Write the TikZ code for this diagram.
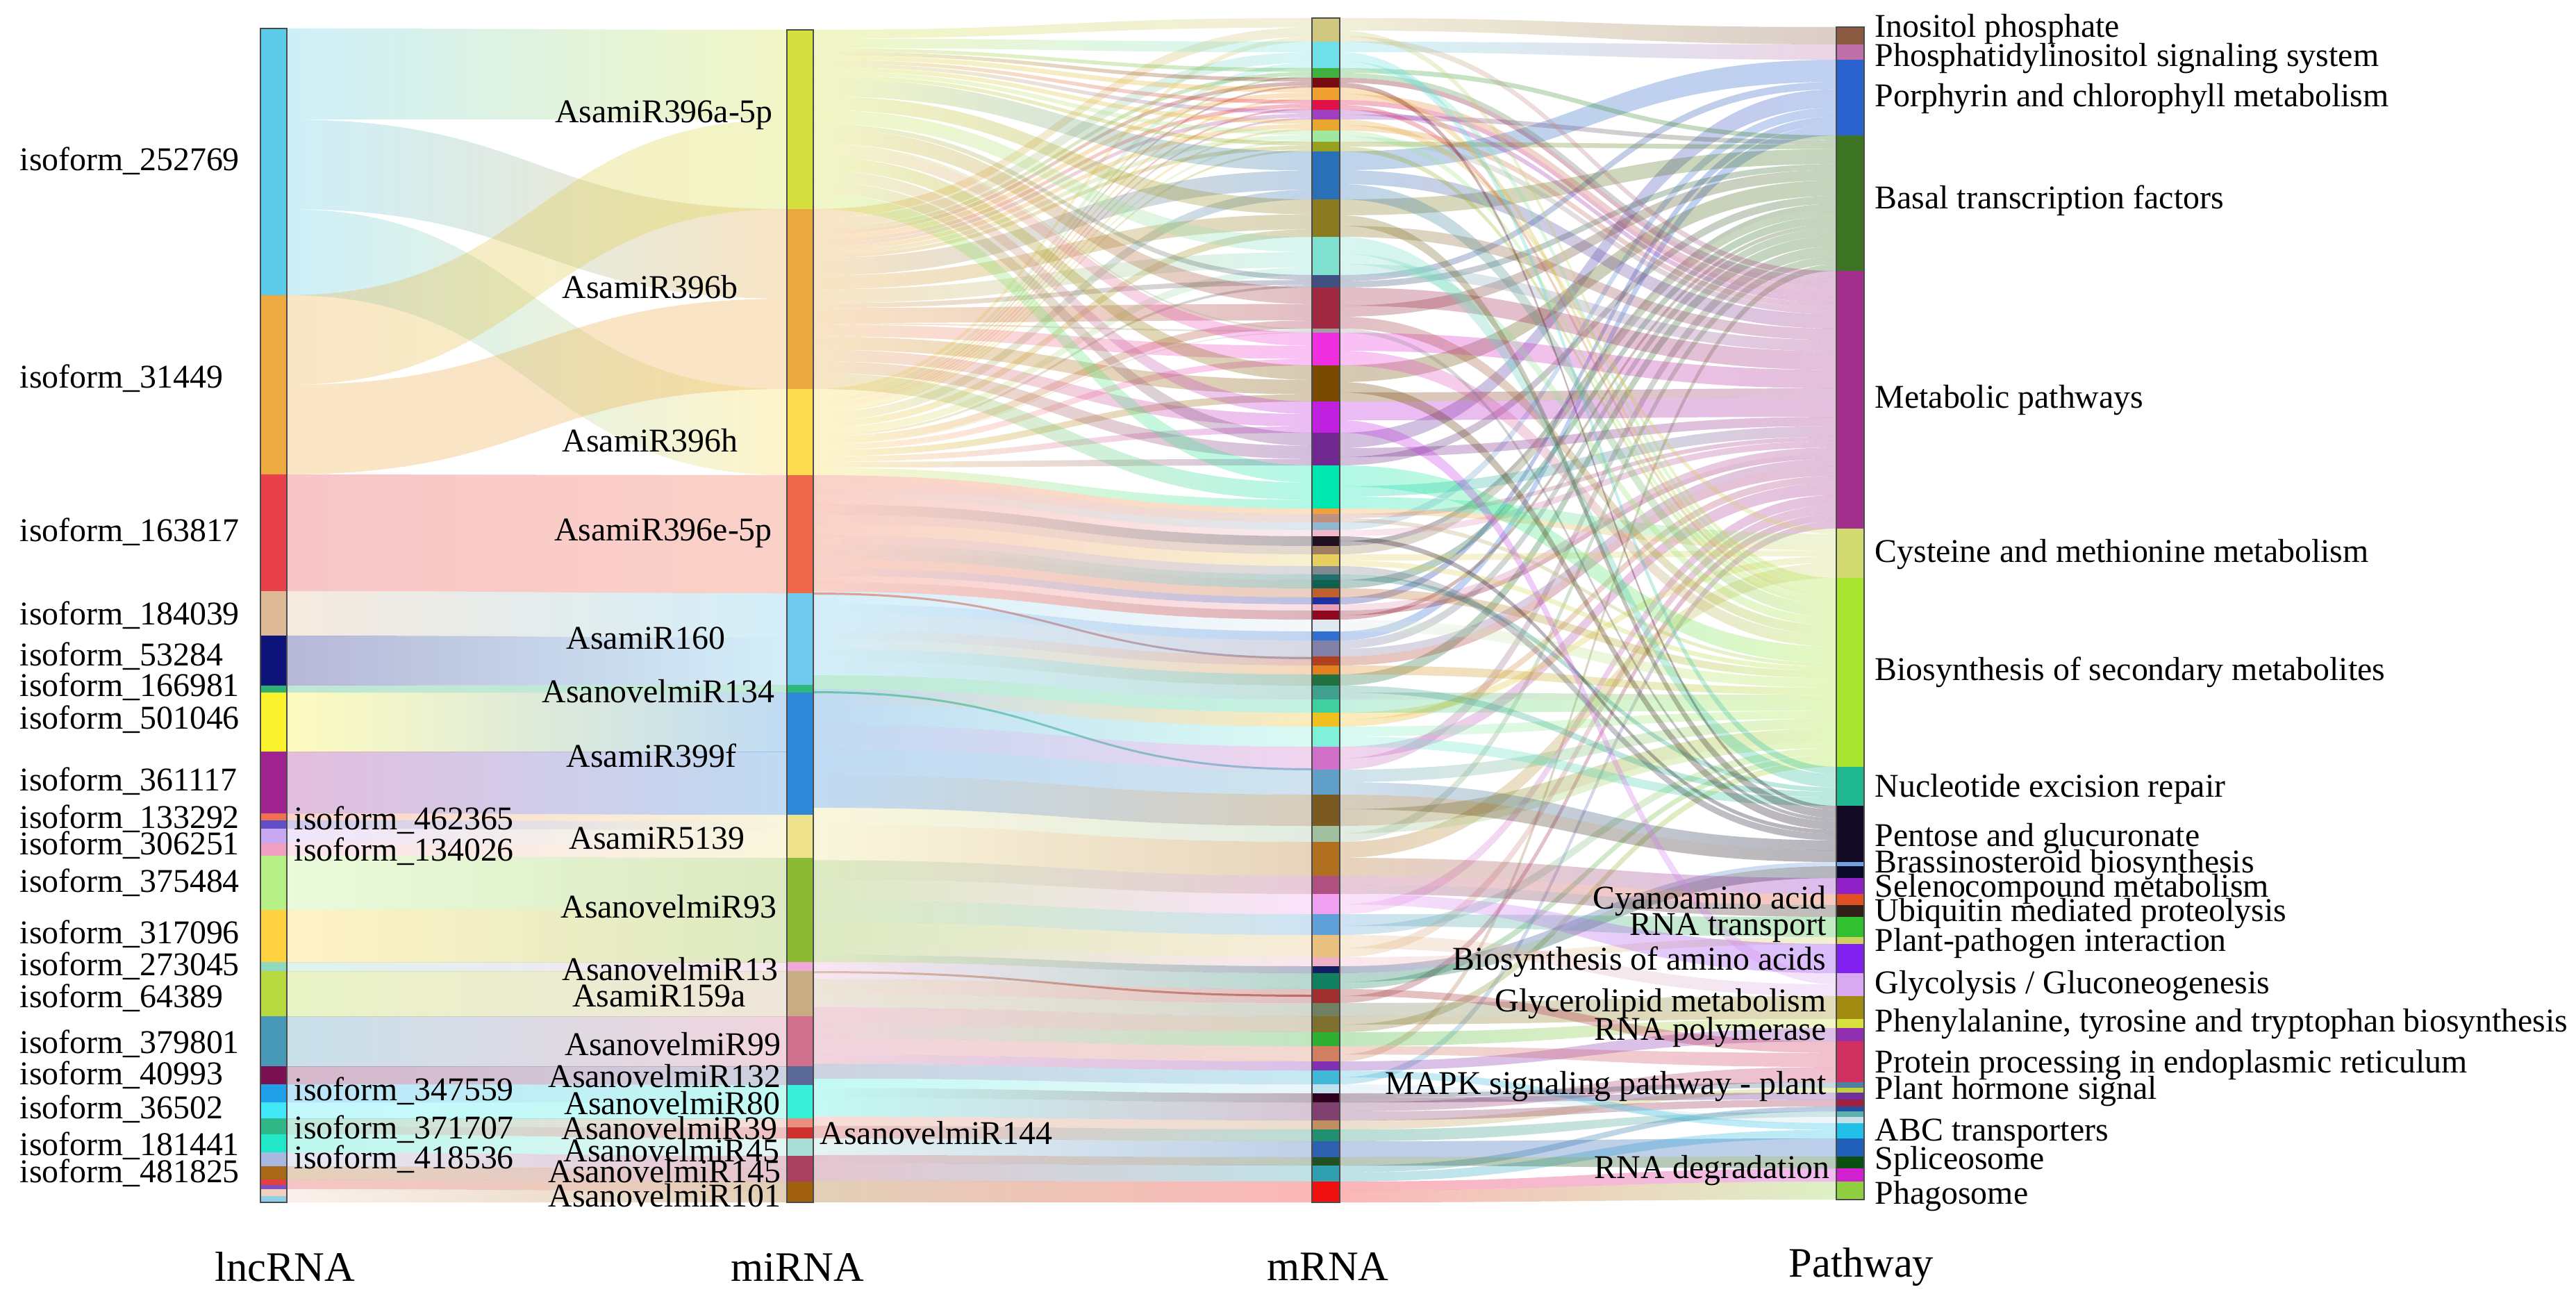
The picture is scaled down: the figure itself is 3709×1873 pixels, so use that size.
\documentclass[tikz,border=0pt]{standalone}
\usepackage{fontspec}
\setmainfont{Liberation Serif}
\usepackage{xcolor}
\usepackage{tikz}

% lncRNA colours
\definecolor{ln1}{HTML}{5CCBEA}\definecolor{ln2}{HTML}{EDAA40}\definecolor{ln3}{HTML}{E8404A}
\definecolor{ln4}{HTML}{DDB995}\definecolor{ln5}{HTML}{0E137A}\definecolor{ln6}{HTML}{30B070}
\definecolor{ln7}{HTML}{FBF22E}\definecolor{ln8}{HTML}{A02490}\definecolor{ln9}{HTML}{F07050}
\definecolor{ln10}{HTML}{6050C8}\definecolor{ln11}{HTML}{C8A8F0}\definecolor{ln12}{HTML}{F0A0C0}
\definecolor{ln13}{HTML}{B8F088}\definecolor{ln14}{HTML}{FFD040}\definecolor{ln15}{HTML}{90D8C0}
\definecolor{ln16}{HTML}{B8D840}\definecolor{ln17}{HTML}{4898B8}\definecolor{ln18}{HTML}{7A1050}
\definecolor{ln19}{HTML}{20A0E8}\definecolor{ln20}{HTML}{40E8F8}\definecolor{ln21}{HTML}{30B888}
\definecolor{ln22}{HTML}{20E8C8}\definecolor{ln23}{HTML}{A8B8E0}\definecolor{ln24}{HTML}{A86818}
\definecolor{ln25}{HTML}{E04040}\definecolor{ln26}{HTML}{8050C0}\definecolor{ln27}{HTML}{F0D0C0}
\definecolor{ln28}{HTML}{90D0E8}
% miRNA colours
\definecolor{mi1}{HTML}{D4E040}\definecolor{mi2}{HTML}{EAA840}\definecolor{mi3}{HTML}{FDDC50}
\definecolor{mi4}{HTML}{F0684A}\definecolor{mi5}{HTML}{70C8EC}\definecolor{mi6}{HTML}{30B878}
\definecolor{mi7}{HTML}{2E88D8}\definecolor{mi8}{HTML}{EEE28C}\definecolor{mi9}{HTML}{8CBA34}
\definecolor{mi10}{HTML}{F0A8D8}\definecolor{mi11}{HTML}{C8AC84}\definecolor{mi12}{HTML}{D0708E}
\definecolor{mi13}{HTML}{5A6898}\definecolor{mi14}{HTML}{38F0DA}\definecolor{mi15}{HTML}{E89080}
\definecolor{mi16}{HTML}{D03030}\definecolor{mi17}{HTML}{A8DCD4}\definecolor{mi18}{HTML}{A84060}
\definecolor{mi19}{HTML}{A06010}
% mRNA colours
\definecolor{mu1}{HTML}{D0C880}\definecolor{mu2}{HTML}{70E0E8}\definecolor{mu3}{HTML}{40B040}
\definecolor{mu4}{HTML}{780A10}\definecolor{mu5}{HTML}{F0A030}\definecolor{mu6}{HTML}{E0104A}
\definecolor{mu7}{HTML}{A040C0}\definecolor{mu8}{HTML}{E8A830}\definecolor{mu9}{HTML}{A0E8A0}
\definecolor{mu10}{HTML}{98A020}\definecolor{mu11}{HTML}{2A70B8}\definecolor{mu12}{HTML}{8A7A20}
\definecolor{mu13}{HTML}{80E0D0}\definecolor{mu14}{HTML}{405080}\definecolor{mu15}{HTML}{A02840}
\definecolor{mu16}{HTML}{A0A0A0}\definecolor{mu17}{HTML}{F030E0}\definecolor{mu18}{HTML}{7A4A00}
\definecolor{mu19}{HTML}{C020E0}\definecolor{mu20}{HTML}{702890}\definecolor{mu21}{HTML}{00E8B0}
\definecolor{ml1}{HTML}{F0A040}\definecolor{ml2}{HTML}{C09080}\definecolor{ml3}{HTML}{90B8D0}
\definecolor{ml4}{HTML}{F0B8C8}\definecolor{ml5}{HTML}{201020}\definecolor{ml6}{HTML}{A08060}
\definecolor{ml7}{HTML}{E8D060}\definecolor{ml8}{HTML}{808890}\definecolor{ml9}{HTML}{207070}
\definecolor{ml10}{HTML}{106050}\definecolor{ml11}{HTML}{C06030}\definecolor{ml12}{HTML}{2030A0}
\definecolor{ml13}{HTML}{E8A0B8}\definecolor{ml14}{HTML}{900820}\definecolor{ml15}{HTML}{E0E8F0}
\definecolor{ml16}{HTML}{3070D0}\definecolor{ml17}{HTML}{8080A8}\definecolor{ml18}{HTML}{B04020}
\definecolor{ml19}{HTML}{E08020}\definecolor{ml20}{HTML}{207040}\definecolor{ml21}{HTML}{40A090}
\definecolor{ml22}{HTML}{40D0A0}\definecolor{ml23}{HTML}{F0C020}\definecolor{ml24}{HTML}{80F0D8}
\definecolor{ml25}{HTML}{D070C8}\definecolor{ml26}{HTML}{60A0C8}\definecolor{ml27}{HTML}{7A5A20}
\definecolor{ml28}{HTML}{A0C0A0}\definecolor{ml29}{HTML}{B07020}\definecolor{ml30}{HTML}{B05080}
\definecolor{ml31}{HTML}{F0A0F0}\definecolor{ml32}{HTML}{60A0D8}\definecolor{ml33}{HTML}{E8C080}
\definecolor{ml34}{HTML}{F0B0C8}\definecolor{ml35}{HTML}{102060}\definecolor{ml36}{HTML}{108060}
\definecolor{ml37}{HTML}{A03030}\definecolor{ml38}{HTML}{708060}\definecolor{ml39}{HTML}{807030}
\definecolor{ml40}{HTML}{30B030}\definecolor{ml41}{HTML}{D08060}\definecolor{ml42}{HTML}{8030B0}
\definecolor{ml43}{HTML}{40B8D8}\definecolor{ml44}{HTML}{C0E0F0}\definecolor{ml45}{HTML}{300020}
\definecolor{ml46}{HTML}{804070}\definecolor{ml47}{HTML}{C09060}\definecolor{ml48}{HTML}{209070}
\definecolor{ml49}{HTML}{3060B0}\definecolor{ml50}{HTML}{205020}\definecolor{ml51}{HTML}{30A0B0}
\definecolor{ml52}{HTML}{F01010}
% pathway colours
\definecolor{pw1}{HTML}{8A5A40}\definecolor{pw2}{HTML}{C070A8}\definecolor{pw3}{HTML}{2A62D0}
\definecolor{pw4}{HTML}{3C7424}\definecolor{pw5}{HTML}{A2308C}\definecolor{pw6}{HTML}{D0DA70}
\definecolor{pw7}{HTML}{A8E430}\definecolor{pw8}{HTML}{20B890}\definecolor{pw9}{HTML}{120A24}
\definecolor{pw10}{HTML}{70A0E0}\definecolor{pw11}{HTML}{0A0A28}\definecolor{pw12}{HTML}{9020C8}
\definecolor{pw13}{HTML}{E05020}\definecolor{pw14}{HTML}{302018}\definecolor{pw15}{HTML}{30C030}
\definecolor{pw16}{HTML}{D0D060}\definecolor{pw17}{HTML}{8020F0}\definecolor{pw18}{HTML}{D8A8F0}
\definecolor{pw19}{HTML}{A08A10}\definecolor{pw20}{HTML}{D8E040}\definecolor{pw21}{HTML}{9030B0}
\definecolor{pw22}{HTML}{D03060}\definecolor{pw23}{HTML}{5080A0}\definecolor{pw24}{HTML}{C0D040}
\definecolor{pw25}{HTML}{7030A0}\definecolor{pw26}{HTML}{A02040}\definecolor{pw27}{HTML}{2050A0}
\definecolor{pw28}{HTML}{60B0B0}\definecolor{pw29}{HTML}{C8E0E8}\definecolor{pw30}{HTML}{20C0E8}
\definecolor{pw31}{HTML}{2060B8}\definecolor{pw32}{HTML}{0A5010}\definecolor{pw33}{HTML}{D020D0}
\definecolor{pw34}{HTML}{90D040}

\begin{document}
\begin{tikzpicture}[x=0.01cm,y=-0.01cm]

% Define block styles
\tikzstyle{flowfill}=[fill opacity=0.3, draw=none]
\tikzstyle{thinflow}=[fill opacity=0.6, draw=none]
\tikzstyle{barline}=[draw=black!70, line width=0.6pt]
\tikzstyle{lbl}=[inner sep=0pt, font=\fontsize{13.6}{15}\selectfont]
\tikzstyle{lnclabel}=[lbl, anchor=west]
\tikzstyle{milabel}=[lbl, anchor=center]
\tikzstyle{leftlabel}=[lbl, anchor=east]
\tikzstyle{pwlabel}=[lbl, anchor=west]
\tikzstyle{title}=[inner sep=0pt, font=\fontsize{17.2}{20}\selectfont]

\useasboundingbox (0,0) rectangle (3709,1873);

% One band between two columns
\newcommand{\flowband}[9][flowfill]{%
  \pgfmathsetmacro\xm{(#2+#3)/2}%
  \shade[#1, left color=#8, right color=#9]
    (#2,#4) .. controls (\xm,#4) and (\xm,#6) .. (#3,#6)
    -- (#3,#7) .. controls (\xm,#7) and (\xm,#5) .. (#2,#5) -- cycle;}

% Bands into one pathway, stacked on its side
\newcommand{\pwflows}[4]{%
  \xdef\pwtot{0}%
  \foreach \fa/\fb/\fc in {#4} {\pgfmathsetmacro\pwtmp{\pwtot+\fb-\fa}\xdef\pwtot{\pwtmp}}%
  \xdef\pwcur{#1}%
  \foreach \fa/\fb/\fc in {#4} {%
    \pgfmathsetmacro\nx{\pwcur+(\fb-\fa)/\pwtot*(#2-#1)}%
    \flowband{1929}{2644}{\fa}{\fb}{\pwcur}{\nx}{\fc}{#3}%
    \xdef\pwcur{\nx}}}

% Segments of the columns
\def\lncsegs{41/425/ln1, 425/683/ln2, 683/851/ln3, 851/915/ln4, 915/987/ln5,
  987/997/ln6, 997/1082/ln7, 1082/1171/ln8, 1171/1181/ln9, 1181/1193/ln10,
  1193/1214/ln11, 1214/1232/ln12, 1232/1310/ln13, 1310/1385/ln14, 1385/1398/ln15,
  1398/1463/ln16, 1463/1535/ln17, 1535/1561/ln18, 1561/1587/ln19, 1587/1610/ln20,
  1610/1633/ln21, 1633/1659/ln22, 1659/1679/ln23, 1679/1698/ln24, 1698/1706/ln25,
  1706/1712/ln26, 1712/1722/ln27, 1722/1731/ln28}
\def\misegs{43/301/mi1, 301/560/mi2, 560/684/mi3, 684/854/mi4, 854/986/mi5,
  986/997/mi6, 997/1173/mi7, 1173/1235/mi8, 1235/1385/mi9, 1385/1398/mi10,
  1398/1463/mi11, 1463/1535/mi12, 1535/1562/mi13, 1562/1610/mi14, 1610/1623/mi15,
  1623/1639/mi16, 1639/1664/mi17, 1664/1701/mi18, 1701/1731/mi19}
\def\mup{26/60/mu1, 60/98/mu2, 98/112/mu3, 112/126/mu4, 126/144/mu5, 144/158/mu6,
  158/172/mu7, 172/188/mu8, 188/204/mu9, 204/218/mu10, 218/287/mu11, 287/341/mu12,
  341/396/mu13, 396/414/mu14, 414/473/mu15, 473/479/mu16, 479/526/mu17, 526/578/mu18,
  578/623/mu19, 623/670/mu20, 670/732/mu21}
\def\mlow{732/740/ml1/mi4, 740/752/ml2/mi4, 752/763/ml3/mi4, 763/772/ml4/mi4,
  772/786/ml5/mi4, 786/798/ml6/mi4, 798/815/ml7/mi4, 815/827/ml8/mi4, 827/835/ml9/mi4,
  835/847/ml10/mi4, 847/860/ml11/mi4, 860/870/ml12/mi4, 870/879/ml13/mi4,
  879/892/ml14/mi4, 892/909/ml15/mi5, 909/922/ml16/mi5, 922/945/ml17/mi5,
  945/958/ml18/mi5, 958/971/ml19/mi5, 971/987/ml20/mi5, 987/1007/ml21/mi5,
  1007/1026/ml22/mi6, 1026/1046/ml23/mi7, 1046/1075/ml24/mi7, 1075/1108/ml25/mi7,
  1108/1144/ml26/mi7, 1144/1189/ml27/mi7, 1189/1212/ml28/mi8, 1212/1261/ml29/mi8,
  1261/1287/ml30/mi9, 1287/1316/ml31/mi9, 1316/1346/ml32/mi9, 1346/1378/ml33/mi9,
  1378/1391/ml34/mi9, 1391/1401/ml35/mi9, 1401/1424/ml36/mi10, 1424/1444/ml37/mi11,
  1444/1463/ml38/mi11, 1463/1486/ml39/mi12, 1486/1506/ml40/mi12, 1506/1528/ml41/mi12,
  1528/1541/ml42/mi12, 1541/1561/ml43/mi13, 1561/1574/ml44/mi14, 1574/1587/ml45/mi14,
  1587/1613/ml46/mi14, 1613/1626/ml47/mi15, 1626/1643/ml48/mi16, 1643/1666/ml49/mi17,
  1666/1678/ml50/mi18, 1678/1701/ml51/mi18, 1701/1731/ml52/mi19}
\def\pwsegs{39/64/pw1, 64/86/pw2, 86/195/pw3, 195/390/pw4, 390/761/pw5, 761/832/pw6,
  832/1104/pw7, 1104/1160/pw8, 1160/1241/pw9, 1241/1247/pw10, 1247/1264/pw11,
  1264/1287/pw12, 1287/1303/pw13, 1303/1320/pw14, 1320/1349/pw15, 1349/1359/pw16,
  1359/1401/pw17, 1401/1434/pw18, 1434/1467/pw19, 1467/1480/pw20, 1480/1499/pw21,
  1499/1558/pw22, 1558/1566/pw23, 1566/1573/pw24, 1573/1583/pw25, 1583/1593/pw26,
  1593/1600/pw27, 1600/1608/pw28, 1608/1617/pw29, 1617/1639/pw30, 1639/1665/pw31,
  1665/1682/pw32, 1682/1701/pw33, 1701/1727/pw34}

% lncRNA -> miRNA
\foreach \la/\lb/\ma/\mb/\cl/\cm in {41/172/43/172/ln1/mi1, 172/301/301/430/ln1/mi2,
  301/425/560/684/ln1/mi3, 425/554/172/301/ln2/mi1, 554/683/430/560/ln2/mi2,
  683/851/684/854/ln3/mi4, 851/915/854/918/ln4/mi5, 915/987/918/986/ln5/mi5,
  987/997/986/997/ln6/mi6, 997/1082/997/1082/ln7/mi7, 1082/1171/1082/1173/ln8/mi7,
  1171/1181/1173/1183/ln9/mi8, 1181/1193/1183/1195/ln10/mi8, 1193/1214/1195/1215/ln11/mi8,
  1214/1232/1215/1235/ln12/mi8, 1232/1310/1235/1310/ln13/mi9, 1310/1385/1310/1385/ln14/mi9,
  1385/1398/1385/1398/ln15/mi10, 1398/1463/1398/1463/ln16/mi11, 1463/1535/1463/1535/ln17/mi12,
  1535/1561/1535/1562/ln18/mi13, 1561/1587/1562/1587/ln19/mi14, 1587/1610/1587/1610/ln20/mi14,
  1610/1622/1610/1623/ln21/mi15, 1622/1633/1623/1639/ln21/mi16, 1633/1659/1639/1664/ln22/mi17,
  1659/1679/1664/1683/ln23/mi18, 1679/1698/1683/1701/ln24/mi18, 1698/1712/1701/1715/ln25/mi19,
  1712/1731/1715/1731/ln27/mi19}
  {\flowband{413}{1133}{\la}{\lb}{\ma}{\mb}{\cl}{\cm}}

% miRNA family 396 -> upper mRNA
\xdef\cuA{43}\xdef\cuB{301}\xdef\cuC{560}
\foreach \fa/\fb/\fc in \mup {%
  \pgfmathsetmacro\hh{\fb-\fa}%
  \pgfmathsetmacro\ma{\fa+0.4*\hh}\pgfmathsetmacro\mb{\fa+0.8*\hh}%
  \pgfmathsetmacro\na{\cuA+0.3654*\hh}%
  \pgfmathsetmacro\nb{\cuB+0.3668*\hh}%
  \pgfmathsetmacro\nc{\cuC+0.1756*\hh}%
  \flowband{1171}{1889}{\cuA}{\na}{\fa}{\ma}{mi1}{\fc}%
  \flowband{1171}{1889}{\cuB}{\nb}{\ma}{\mb}{mi2}{\fc}%
  \flowband{1171}{1889}{\cuC}{\nc}{\mb}{\fb}{mi3}{\fc}%
  \xdef\cuA{\na}\xdef\cuB{\nb}\xdef\cuC{\nc}}

% other miRNA -> lower mRNA
\foreach \fa/\fb/\fc/\fd in \mlow {%
  \pgfmathsetmacro\sa{684+(\fa-732)*1.048}%
  \pgfmathsetmacro\sb{684+(\fb-732)*1.048}%
  \flowband{1171}{1889}{\sa}{\sb}{\fa}{\fb}{\fd}{\fc}}
\flowband[thinflow]{1171}{1889}{853}{856}{946}{949}{mi4}{ml17}
\flowband[thinflow]{1171}{1889}{995}{998}{1106}{1109}{mi6}{ml26}
\flowband[thinflow]{1171}{1889}{1398}{1401}{1432}{1435}{mi11}{ml37}

% mRNA -> pathway
\pwflows{39}{64}{pw1}{26/44/mu1}
\pwflows{64}{86}{pw2}{60/75/mu2}
\pwflows{86}{195}{pw3}{218/245/mu11, 396/405/mu14, 623/645/mu20, 752/763/ml3,
  860/870/ml12, 909/922/ml16}
\pwflows{195}{390}{pw4}{98/105/mu3, 165/172/mu7, 204/211/mu10, 287/310/mu12,
  405/414/mu14, 440/456/mu15, 526/550/mu18, 658/670/mu20, 779/786/ml5, 786/798/ml6,
  835/847/ml10, 886/892/ml14, 922/934/ml17, 971/987/ml20, 1092/1108/ml25,
  1200/1212/ml28, 1518/1528/ml41}
\pwflows{390}{761}{pw5}{52/60/mu1, 105/112/mu3, 112/119/mu4, 135/144/mu5,
  144/151/mu6, 158/165/mu7, 180/188/mu8, 196/204/mu9, 245/265/mu11, 325/341/mu12,
  380/396/mu13, 414/440/mu15, 479/505/mu17, 565/578/mu18, 578/605/mu19, 645/658/mu20,
  700/715/mu21, 740/746/ml2, 763/772/ml4, 870/879/ml13, 879/886/ml14, 934/945/ml17,
  945/958/ml18, 1036/1046/ml23, 1075/1092/ml25, 1302/1316/ml31, 1365/1378/ml33,
  1434/1444/ml37, 1551/1561/ml43}
\pwflows{761}{832}{pw6}{172/180/mu8, 715/732/mu21, 732/740/ml1, 798/807/ml7,
  1026/1036/ml23, 1212/1235/ml29}
\pwflows{832}{1104}{pw7}{44/52/mu1, 88/98/mu2, 126/135/mu5, 151/158/mu6,
  188/196/mu9, 211/218/mu10, 265/287/mu11, 365/380/mu13, 456/473/mu15, 505/526/mu17,
  670/700/mu21, 746/752/ml2, 807/815/ml7, 847/860/ml11, 892/909/ml15, 958/971/ml19,
  997/1007/ml21, 1007/1026/ml22, 1046/1060/ml24, 1108/1126/ml26, 1165/1189/ml27,
  1189/1200/ml28, 1333/1346/ml32, 1414/1424/ml36, 1475/1486/ml39}
\pwflows{1104}{1160}{pw8}{75/88/mu2, 341/365/mu13, 827/835/ml9, 987/997/ml21,
  1060/1075/ml24}
\pwflows{1160}{1241}{pw9}{119/126/mu4, 310/325/mu12, 473/479/mu16, 550/565/mu18,
  772/779/ml5, 815/827/ml8, 1126/1144/ml26, 1144/1165/ml27}
\pwflows{1241}{1247}{pw10}{1391/1401/ml35}
\pwflows{1247}{1264}{pw11}{1401/1414/ml36}
\pwflows{1264}{1287}{pw12}{1235/1261/ml29}
\pwflows{1287}{1303}{pw13}{1261/1274/ml30}
\pwflows{1303}{1320}{pw14}{1274/1287/ml30}
\pwflows{1320}{1349}{pw15}{1316/1333/ml32}
\pwflows{1349}{1359}{pw16}{1378/1391/ml34}
\pwflows{1359}{1401}{pw17}{1287/1302/ml31}
\pwflows{1401}{1434}{pw18}{605/623/mu19, 1346/1365/ml33}
\pwflows{1434}{1467}{pw19}{1444/1463/ml38, 1463/1475/ml39}
\pwflows{1467}{1480}{pw20}{1486/1506/ml40}
\pwflows{1480}{1499}{pw21}{1528/1541/ml42}
\pwflows{1499}{1558}{pw22}{1424/1434/ml37, 1506/1518/ml41, 1587/1600/ml46}
\pwflows{1558}{1566}{pw23}{1574/1580/ml45}
\pwflows{1566}{1573}{pw24}{1613/1626/ml47}
\pwflows{1573}{1583}{pw25}{1580/1587/ml45}
\pwflows{1583}{1593}{pw26}{1600/1613/ml46}
\pwflows{1593}{1600}{pw27}{1678/1688/ml51}
\pwflows{1600}{1608}{pw28}{1626/1643/ml48}
\pwflows{1608}{1617}{pw29}{1561/1574/ml44}
\pwflows{1617}{1639}{pw30}{1541/1551/ml43, 1688/1701/ml51}
\pwflows{1639}{1665}{pw31}{1643/1666/ml49}
\pwflows{1665}{1682}{pw32}{1666/1678/ml50}
\pwflows{1682}{1701}{pw33}{1701/1714/ml52}
\pwflows{1701}{1727}{pw34}{1714/1731/ml52}

% Draw the columns
\foreach \fa/\fb/\fc in \lncsegs {\fill[\fc] (375,\fa) rectangle (413,\fb);}
\foreach \fa/\fb/\fc in \misegs {\fill[\fc] (1133,\fa) rectangle (1171,\fb);}
\foreach \fa/\fb/\fc in \mup {\fill[\fc] (1889,\fa) rectangle (1929,\fb);}
\foreach \fa/\fb/\fc/\fd in \mlow {\fill[\fc] (1889,\fa) rectangle (1929,\fb);}
\foreach \fa/\fb/\fc in \pwsegs {\fill[\fc] (2644,\fa) rectangle (2684,\fb);}
\draw[barline] (375,41) rectangle (413,1731);
\draw[barline] (1133,43) rectangle (1171,1731);
\draw[barline] (1889,26) rectangle (1929,1731);
\draw[barline] (2644,39) rectangle (2684,1727);

% lncRNA labels
\path node[lnclabel] at (28,232) (i252769) {isoform\_252769};
\path node[lnclabel] at (28,545) (i31449) {isoform\_31449};
\path node[lnclabel] at (28,766) (i163817) {isoform\_163817};
\path node[lnclabel] at (28,886) (i184039) {isoform\_184039};
\path node[lnclabel] at (28,945) (i53284) {isoform\_53284};
\path node[lnclabel] at (28,989) (i166981) {isoform\_166981};
\path node[lnclabel] at (28,1036) (i501046) {isoform\_501046};
\path node[lnclabel] at (28,1125) (i361117) {isoform\_361117};
\path node[lnclabel] at (28,1179) (i133292) {isoform\_133292};
\path node[lnclabel] at (28,1217) (i306251) {isoform\_306251};
\path node[lnclabel] at (28,1271) (i375484) {isoform\_375484};
\path node[lnclabel] at (28,1345) (i317096) {isoform\_317096};
\path node[lnclabel] at (28,1391) (i273045) {isoform\_273045};
\path node[lnclabel] at (28,1437) (i64389) {isoform\_64389};
\path node[lnclabel] at (28,1503) (i379801) {isoform\_379801};
\path node[lnclabel] at (28,1548) (i40993) {isoform\_40993};
\path node[lnclabel] at (28,1597) (i36502) {isoform\_36502};
\path node[lnclabel] at (28,1650) (i181441) {isoform\_181441};
\path node[lnclabel] at (28,1689) (i481825) {isoform\_481825};
\path node[lnclabel] at (423,1181) (i462365) {isoform\_462365};
\path node[lnclabel] at (423,1226) (i134026) {isoform\_134026};
\path node[lnclabel] at (423,1571) (i347559) {isoform\_347559};
\path node[lnclabel] at (423,1626) (i371707) {isoform\_371707};
\path node[lnclabel] at (423,1669) (i418536) {isoform\_418536};

% miRNA labels
\path node[milabel] at (956,166) (r396a) {AsamiR396a-5p};
\path node[milabel] at (936,413) (r396b) {AsamiR396b};
\path node[milabel] at (936,634) (r396h) {AsamiR396h};
\path node[milabel] at (955,768) (r396e) {AsamiR396e-5p};
\path node[milabel] at (930,919) (r160) {AsamiR160};
\path node[milabel] at (948,995) (r134) {AsanovelmiR134};
\path node[milabel] at (938,1088) (r399f) {AsamiR399f};
\path node[milabel] at (946,1207) (r5139) {AsamiR5139};
\path node[milabel] at (963,1305) (r93) {AsanovelmiR93};
\path node[milabel] at (965,1395) (r13) {AsanovelmiR13};
\path node[milabel] at (949,1434) (r159a) {AsamiR159a};
\path node[milabel] at (969,1503) (r99) {AsanovelmiR99};
\path node[milabel] at (957,1549) (r132) {AsanovelmiR132};
\path node[milabel] at (968,1588) (r80) {AsanovelmiR80};
\path node[milabel] at (964,1624) (r39) {AsanovelmiR39};
\path node[milabel] at (967,1656) (r45) {AsanovelmiR45};
\path node[milabel] at (957,1686) (r145) {AsanovelmiR145};
\path node[milabel] at (957,1721) (r101) {AsanovelmiR101};
\path node[lnclabel] at (1180,1631) (r144) {AsanovelmiR144};

% Pathway labels
\path node[pwlabel] at (2699,42) (kInos) {Inositol phosphate};
\path node[pwlabel] at (2699,84) (kPhos) {Phosphatidylinositol signaling system};
\path node[pwlabel] at (2699,142) (kPorph) {Porphyrin and chlorophyll metabolism};
\path node[pwlabel] at (2699,289) (kBasal) {Basal transcription factors};
\path node[pwlabel] at (2699,576) (kMetab) {Metabolic pathways};
\path node[pwlabel] at (2699,798) (kCyst) {Cysteine and methionine metabolism};
\path node[pwlabel] at (2699,968) (kSecond) {Biosynthesis of secondary metabolites};
\path node[pwlabel] at (2699,1136) (kNucl) {Nucleotide excision repair};
\path node[pwlabel] at (2699,1207) (kPent) {Pentose and glucuronate};
\path node[pwlabel] at (2699,1245) (kBrass) {Brassinosteroid biosynthesis};
\path node[pwlabel] at (2699,1280) (kSelen) {Selenocompound metabolism};
\path node[pwlabel] at (2699,1315) (kUbiq) {Ubiquitin mediated proteolysis};
\path node[pwlabel] at (2699,1358) (kPlantp) {Plant-pathogen interaction};
\path node[pwlabel] at (2699,1419) (kGlyco) {Glycolysis / Gluconeogenesis};
\path node[pwlabel] at (2699,1474) (kPhen) {Phenylalanine, tyrosine and tryptophan biosynthesis};
\path node[pwlabel] at (2699,1533) (kProt) {Protein processing in endoplasmic reticulum};
\path node[pwlabel] at (2699,1571) (kHorm) {Plant hormone signal};
\path node[pwlabel] at (2699,1632) (kABC) {ABC transporters};
\path node[pwlabel] at (2699,1672) (kSplic) {Spliceosome};
\path node[pwlabel] at (2699,1722) (kPhag) {Phagosome};
\path node[leftlabel] at (2630,1297) (kCyano) {Cyanoamino acid};
\path node[leftlabel] at (2630,1336) (kRNAt) {RNA transport};
\path node[leftlabel] at (2630,1385) (kAmino) {Biosynthesis of amino acids};
\path node[leftlabel] at (2630,1445) (kGlyce) {Glycerolipid metabolism};
\path node[leftlabel] at (2630,1486) (kRNAp) {RNA polymerase};
\path node[leftlabel] at (2630,1564) (kMAPK) {MAPK signaling pathway - plant};
\path node[leftlabel] at (2635,1685) (kRNAd) {RNA degradation};

% Column titles
\path node[title] at (410,1824) (tlnc) {lncRNA};
\path node[title] at (1148,1824) (tmi) {miRNA};
\path node[title] at (1912,1824) (tm) {mRNA};
\path node[title] at (2680,1824) (tpw) {Pathway};

\end{tikzpicture}
\end{document}
